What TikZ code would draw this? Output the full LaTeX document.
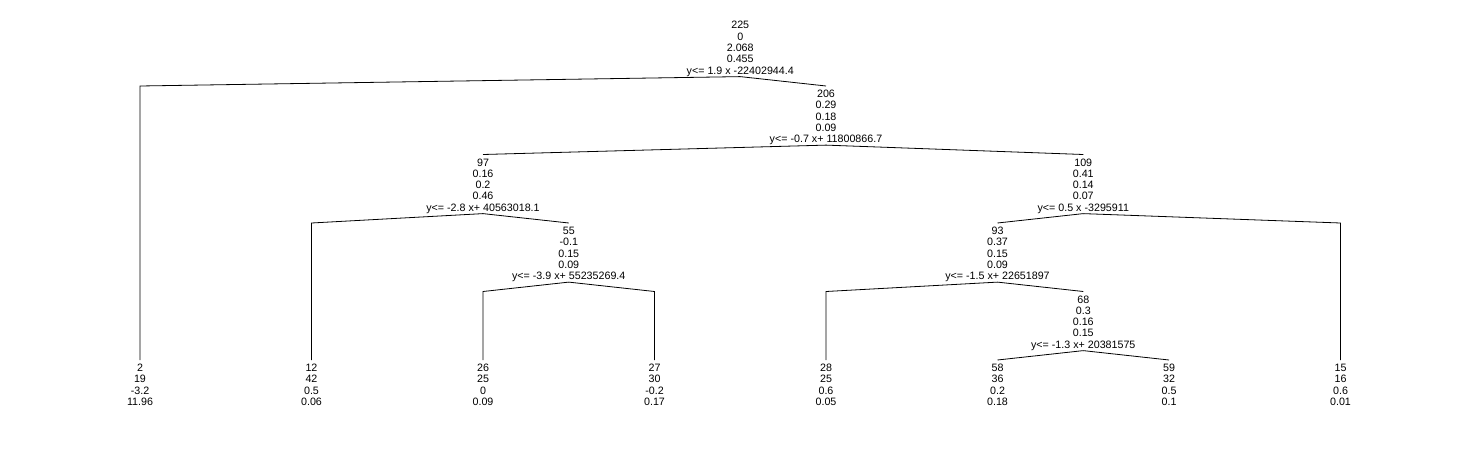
\documentclass[tikz,border=0pt]{standalone}
\usepackage{fontspec}
\setmainfont{Liberation Sans}
\newcommand{\nstrut}{\rule{0pt}{11.3pt}}

\begin{document}
\begin{tikzpicture}[
  x=171.5pt, y=68.5pt,
  t/.style={
    align=center,
    inner sep=0pt,
    anchor=north,
    font=\fontsize{10.7}{11.3}\selectfont
  },
  split/.style={t},   % inner node
  leaf/.style={t},    % terminal node
  br/.style={draw, line width=0.8pt}
]
\useasboundingbox (-0.8163,0.2555) rectangle (7.8309,-6.6058);

% --- inner nodes ---
\node[split] (n225) at (3.5,0)  {\nstrut 225\\0\\2.068\\0.455\\y<= 1.9 x -22402944.4};
\node[split] (n206) at (4,-1)   {\nstrut 206\\0.29\\0.18\\0.09\\y<= -0.7 x+ 11800866.7};
\node[split] (n97)  at (2,-2)   {\nstrut 97\\0.16\\0.2\\0.46\\y<= -2.8 x+ 40563018.1};
\node[split] (n109) at (5.5,-2) {\nstrut 109\\0.41\\0.14\\0.07\\y<= 0.5 x -3295911};
\node[split] (n55)  at (2.5,-3) {\nstrut 55\\-0.1\\0.15\\0.09\\y<= -3.9 x+ 55235269.4};
\node[split] (n93)  at (5,-3)   {\nstrut 93\\0.37\\0.15\\0.09\\y<= -1.5 x+ 22651897};
\node[split] (n68)  at (5.5,-4) {\nstrut 68\\0.3\\0.16\\0.15\\y<= -1.3 x+ 20381575};

% --- leaves ---
\node[leaf] (n2)  at (0,-5) {\nstrut 2\\19\\-3.2\\11.96};
\node[leaf] (n12) at (1,-5) {\nstrut 12\\42\\0.5\\0.06};
\node[leaf] (n26) at (2,-5) {\nstrut 26\\25\\0\\0.09};
\node[leaf] (n27) at (3,-5) {\nstrut 27\\30\\-0.2\\0.17};
\node[leaf] (n28) at (4,-5) {\nstrut 28\\25\\0.6\\0.05};
\node[leaf] (n58) at (5,-5) {\nstrut 58\\36\\0.2\\0.18};
\node[leaf] (n59) at (6,-5) {\nstrut 59\\32\\0.5\\0.1};
\node[leaf] (n15) at (7,-5) {\nstrut 15\\16\\0.6\\0.01};

% --- corners above leaves ---
\coordinate (c2)  at (0,-1);
\coordinate (c12) at (1,-3);
\coordinate (c26) at (2,-4);
\coordinate (c27) at (3,-4);
\coordinate (c28) at (4,-4);
\coordinate (c15) at (7,-3);

% --- branches ---
\draw[br] (n225.south) -- (c2) -- (n2.north);
\draw[br] (n225.south) -- (n206.north);
\draw[br] (n206.south) -- (n97.north);
\draw[br] (n206.south) -- (n109.north);
\draw[br] (n97.south) -- (c12) -- (n12.north);
\draw[br] (n97.south) -- (n55.north);
\draw[br] (n55.south) -- (c26) -- (n26.north);
\draw[br] (n55.south) -- (c27) -- (n27.north);
\draw[br] (n109.south) -- (n93.north);
\draw[br] (n109.south) -- (c15) -- (n15.north);
\draw[br] (n93.south) -- (c28) -- (n28.north);
\draw[br] (n93.south) -- (n68.north);
\draw[br] (n68.south) -- (n58.north);
\draw[br] (n68.south) -- (n59.north);

\end{tikzpicture}
\end{document}
